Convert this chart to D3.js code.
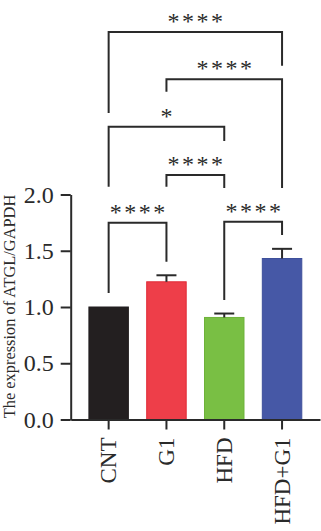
<!DOCTYPE html>
<html>
<head>
<meta charset="utf-8">
<script src="https://cdn.jsdelivr.net/npm/d3@7"></script>
<style>
  html, body { margin: 0; padding: 0; background: #fff; }
  svg { display: block; }
</style>
</head>
<body>
<svg id="chart" width="321" height="531"></svg>
<script>
// ---- data ----
const categories = ["CNT", "G1", "HFD", "HFD+G1"];
const means = [1.0, 1.224, 0.907, 1.431];
const sems = [0.0, 0.058, 0.035, 0.086];
const barColors = ["#231F20", "#EE3E49", "#79BF44", "#4658A6"];
const barStrokes = ["#231F20", "#E02A36", "#6DB23A", "#3E4F9B"];
const yTicks = [0.0, 0.5, 1.0, 1.5, 2.0];
const yTitle = "The expression of ATGL/GAPDH";
// significance comparisons: [from index, to index], label, bracket level, left leg end, right leg end (data units)
const compPairs = [[0, 1], [2, 3], [1, 2], [0, 2], [1, 3], [0, 3]];
const compLabels = ["****", "****", "****", "*", "****", "****"];
const compLevels = [1.749, 1.758, 2.173, 2.603, 3.024, 3.444];
const compLeftEnds = [1.124, 1.062, 2.069, 2.069, 2.914, 2.724];
const compRightEnds = [1.403, 1.640, 2.058, 2.476, 2.058, 3.144];

// ---- layout ----
const svg = d3.select("#chart");
const ink = "#2a2a2a";
const serif = "'Liberation Serif', 'DejaVu Serif', serif";

const x = d3.scaleBand()
  .domain(categories)
  .range([70.7, 320])
  .paddingInner(0.317)
  .paddingOuter(0.315);

const y = d3.scaleLinear()
  .domain([0, 2])
  .range([419.5, 194.5]);

// bars
svg.append("g").selectAll("rect")
  .data(categories)
  .join("rect")
  .attr("x", d => x(d))
  .attr("width", x.bandwidth())
  .attr("y", (d, i) => y(means[i]))
  .attr("height", (d, i) => y(0) - y(means[i]))
  .attr("fill", (d, i) => barColors[i])
  .attr("stroke", (d, i) => barStrokes[i])
  .attr("stroke-width", 1);

// error bars (upper only)
const eg = svg.append("g").attr("stroke", ink).attr("stroke-width", 2);
categories.forEach((c, i) => {
  if (sems[i] <= 0) return;
  const cx = x(c) + x.bandwidth() / 2;
  eg.append("line")
    .attr("x1", cx).attr("x2", cx)
    .attr("y1", y(means[i])).attr("y2", y(means[i] + sems[i]));
  eg.append("line")
    .attr("x1", cx - 10).attr("x2", cx + 10)
    .attr("y1", y(means[i] + sems[i])).attr("y2", y(means[i] + sems[i]));
});

// y axis
const yAxis = svg.append("g")
  .attr("transform", "translate(70.7,0)")
  .call(d3.axisLeft(y).tickValues(yTicks).tickFormat(d3.format(".1f")).tickSize(10).tickSizeOuter(0).tickPadding(7));
yAxis.selectAll("path, line").attr("stroke", ink).attr("stroke-width", 2);
yAxis.selectAll("text")
  .attr("fill", ink)
  .style("font-family", serif)
  .style("font-size", "24px");

// x axis
const xAxis = svg.append("g")
  .attr("transform", "translate(0,419.5)")
  .call(d3.axisBottom(x).tickSize(10).tickSizeOuter(0).tickPadding(8));
xAxis.selectAll("path, line").attr("stroke", ink).attr("stroke-width", 2);
xAxis.selectAll("text")
  .attr("fill", ink)
  .style("font-family", serif)
  .style("font-size", "23px")
  .attr("text-anchor", "end")
  .attr("transform", "rotate(-90)")
  .attr("x", -18)
  .attr("y", 0)
  .attr("dy", "0.33em");

// y title
svg.append("text")
  .attr("transform", `translate(15,${(193 + 420) / 2}) rotate(-90)`)
  .attr("text-anchor", "middle")
  .attr("fill", ink)
  .style("font-family", serif)
  .style("font-size", "16.4px")
  .text(yTitle);

// significance brackets
const bg = svg.append("g");
const starSpacing = 2.5;
compPairs.forEach((p, k) => {
  const x1 = x(categories[p[0]]) + x.bandwidth() / 2;
  const x2 = x(categories[p[1]]) + x.bandwidth() / 2;
  const yl = y(compLevels[k]);
  bg.append("path")
    .attr("d", `M${x1},${y(compLeftEnds[k])}V${yl}H${x2}V${y(compRightEnds[k])}`)
    .attr("fill", "none")
    .attr("stroke", ink)
    .attr("stroke-width", 2);
  bg.append("text")
    .attr("x", (x1 + x2) / 2 + starSpacing / 2)
    .attr("y", yl - 3)
    .attr("text-anchor", "middle")
    .attr("fill", ink)
    .style("font-family", serif)
    .style("font-size", "24px")
    .style("letter-spacing", starSpacing + "px")
    .text(compLabels[k]);
});
</script>
</body>
</html>
